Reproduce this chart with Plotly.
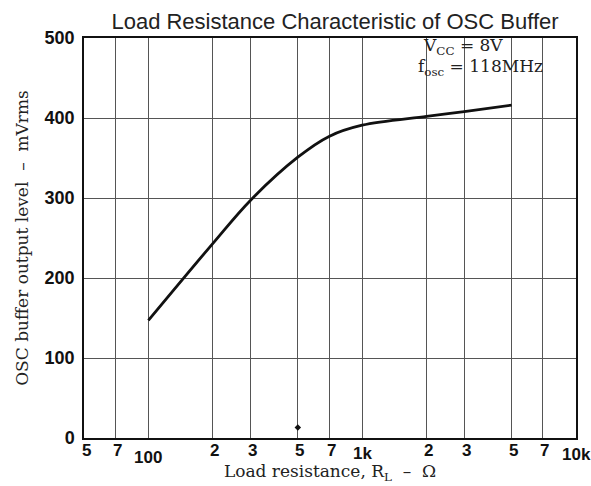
import plotly.graph_objects as go
import math

# ---- data ----
load_resistance = [100, 200, 300, 500, 700, 1000, 2000, 3000, 5000]
output_level = [147, 243, 297, 351, 377, 391, 402, 408, 416]

mark_r = [500]
mark_v = [13]

x_grid = [50, 70, 100, 200, 300, 500, 700, 1000, 2000, 3000, 5000, 7000, 10000]
x_labels = ["5", "7", "100", "2", "3", "5", "7", "1k", "2", "3", "5", "7", "10k"]
y_ticks = [0, 100, 200, 300, 400, 500]
y_labels = ["0", "100", "200", "300", "400", "500"]

title_text = "Load Resistance Characteristic of OSC Buffer"
x_title = "Load resistance, R<sub>L</sub>  \u2013  \u03a9"
y_title = "OSC buffer output level  \u2013  mVrms"
cond1 = "V<sub>CC</sub> = 8V"
cond2 = "f<sub>osc</sub> = 118MHz"

W, H = 591, 486
L, T = 84, 38
PW, PH = 492, 400
R, B = W - L - PW, H - T - PH

x_font = dict(family="Liberation Sans, Arial", size=17, color="#111", weight="bold")
y_font = dict(family="Liberation Sans, Arial", size=18, color="#111", weight="bold")
serif = "DejaVu Serif, Liberation Serif, serif"

fig = go.Figure()
fig.add_trace(go.Scatter(
    x=load_resistance, y=output_level, mode="lines",
    line=dict(color="#111", width=2.8, shape="spline", smoothing=1.0),
    hoverinfo="skip", showlegend=False))
fig.add_trace(go.Scatter(
    x=mark_r, y=mark_v, mode="markers",
    marker=dict(symbol="diamond", size=5, color="#111"),
    hoverinfo="skip", showlegend=False))

# x tick labels (decade labels sit lower)
low_shift = {"100": -8, "1k": -4, "10k": -5}
for xv, lab in zip(x_grid, x_labels):
    low = lab in low_shift
    fig.add_annotation(x=math.log10(xv), y=0, xref="x", yref="paper",
                       text=lab, showarrow=False, xanchor="center", yanchor="top",
                       yshift=low_shift.get(lab, -1),
                       xshift=0 if low else 2,
                       font=x_font)

fig.add_annotation(x=(421 - L) / PW, y=(T + PH - 47) / PH,
                   xref="paper", yref="paper", text=cond1, showarrow=False,
                   xanchor="left", yanchor="middle",
                   font=dict(family=serif, size=17, color="#222"))
fig.add_annotation(x=(416 - L) / PW, y=(T + PH - 67) / PH,
                   xref="paper", yref="paper", text=cond2, showarrow=False,
                   xanchor="left", yanchor="middle",
                   font=dict(family=serif, size=17, color="#222"))

fig.update_layout(
    width=W, height=H,
    margin=dict(l=L, r=R, t=T, b=B),
    paper_bgcolor="white", plot_bgcolor="white",
    title=dict(text=title_text, x=335 / W, xanchor="center", xref="container",
               y=1 - 21 / H, yanchor="middle", yref="container",
               font=dict(family="Liberation Sans, Arial", size=22, color="#222")),
    xaxis=dict(type="log", range=[math.log10(50), math.log10(10000)],
               tickvals=x_grid, ticktext=[""] * len(x_grid),
               showgrid=True, gridcolor="#555", gridwidth=1,
               showline=True, linecolor="#111", linewidth=1.5, mirror=True,
               zeroline=False, ticks="",
               title=dict(text=x_title, font=dict(family=serif, size=17, color="#222"),
                          standoff=24)),
    yaxis=dict(range=[0, 500], tickvals=y_ticks, ticktext=y_labels,
               showgrid=True, gridcolor="#555", gridwidth=1,
               showline=True, linecolor="#111", linewidth=1.5, mirror=True,
               zeroline=False, ticks="", ticklabelstandoff=4,
               tickfont=y_font,
               title=dict(text=y_title, font=dict(family=serif, size=17, color="#222"),
                          standoff=12)),
)

# remove the default 8px page margin so the figure fills the 591x486 window exactly
fig.write_html("out.html", config={"displayModeBar": False},
               post_script="document.body.style.margin='0px';")
